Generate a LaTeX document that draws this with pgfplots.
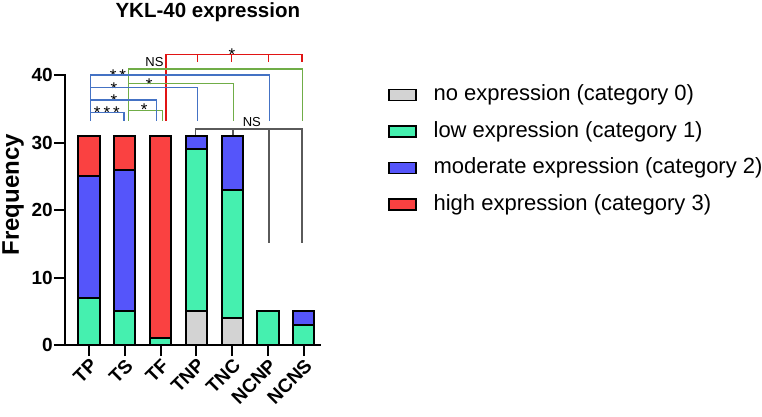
\documentclass[border=0pt]{standalone}
\usepackage{fontspec}
\setmainfont{Liberation Sans}
\usepackage{pgfplots}
\usepackage{pgfplotstable}
\pgfplotsset{compat=1.18}

\definecolor{cnone}{RGB}{211,211,211}
\definecolor{clow}{RGB}{69,240,175}
\definecolor{cmod}{RGB}{85,85,250}
\definecolor{chigh}{RGB}{250,65,65}
\definecolor{bblue}{RGB}{68,114,196}
\definecolor{bgreen}{RGB}{112,173,71}
\definecolor{bred}{RGB}{225,20,20}
\definecolor{bgray}{RGB}{90,90,90}

% counts per group: x cat0 cat1 cat2 cat3
\pgfplotstableread{
x c0 c1 c2 c3
0 0 7 18 6
1 0 5 21 5
2 0 1 0 30
3 5 24 2 0
4 4 19 8 0
5 0 5 0 0
6 0 3 2 0
}\ykl

\newcommand{\sig}{\hspace{3bp}}

\begin{document}
\begin{tikzpicture}
\begin{axis}[
  name=ax,
  scale only axis,
  width=254.9bp, height=270bp,
  xmin=-0.67, xmax=6.45, ymin=0, ymax=40,
  axis x line*=bottom, axis y line*=left,
  axis line style={-, line width=2bp, line cap=rect},
  tick align=outside,
  major tick length=11bp,
  tick style={line width=2bp, black},
  xtick={0,...,6},
  xticklabels={TP,TS,TF,TNP,TNC,NCNP,NCNS},
  ytick={0,10,20,30,40},
  /pgf/number format/assume math mode=true,
  ticklabel style={font=\bfseries\fontsize{19bp}{19bp}\selectfont},
  xticklabel style={rotate=45, anchor=north east, inner sep=1bp},
  yticklabel style={anchor=east, inner sep=1bp},
  ylabel={Frequency},
  ylabel style={font=\bfseries\fontsize{24bp}{24bp}\selectfont,
    at={(axis description cs:-0.204,0.556)}, anchor=center},
  ybar stacked,
  bar width=0.59,
  clip=false,
  legend image code/.code={%
    \draw[#1, line width=1.5bp] (0bp,-5.5bp) rectangle (27bp,5.5bp);},
  legend style={draw=none, fill=none, at={(axis cs:8.35,38.6)}, anchor=north west,
    inner sep=0pt, row sep=15.5bp,
    font=\fontsize{22bp}{22bp}\selectfont,
    nodes={inner sep=0pt, text height=16bp, text depth=5bp},
    /tikz/every odd column/.append style={column sep=17bp}},
  legend cell align=left,
]
\addplot[fill=cnone, draw=black, line width=2bp] table[x=x, y=c0] {\ykl};
\addplot[fill=clow, draw=black, line width=2bp] table[x=x, y=c1] {\ykl};
\addplot[fill=cmod, draw=black, line width=2bp] table[x=x, y=c2] {\ykl};
\addplot[fill=chigh, draw=black, line width=2bp] table[x=x, y=c3] {\ykl};
\legend{no expression (category 0), low expression (category 1),
  moderate expression (category 2), high expression (category 3)}

% significance brackets
\draw[bblue, line width=1.2bp] (axis cs:0.98,33.2) |- (axis cs:0.05,34.4) -- (axis cs:0.05,33.2);
\draw[bblue, line width=1.2bp] (axis cs:1.89,33.2) |- (axis cs:0.05,36.3);
\draw[bblue, line width=1.2bp] (axis cs:3.04,33.2) |- (axis cs:0.05,38.1);
\draw[bblue, line width=1.2bp] (axis cs:5.04,33.2) |- (axis cs:0.05,40.0) -- (axis cs:0.05,33.2);
\draw[bgreen, line width=1.2bp] (axis cs:2.05,33.2) |- (axis cs:1.10,34.8) -- (axis cs:1.10,33.2);
\draw[bgreen, line width=1.2bp] (axis cs:4.03,33.2) |- (axis cs:1.10,38.7);
\draw[bgreen, line width=1.2bp] (axis cs:5.96,33.2) |- (axis cs:1.10,40.9) -- (axis cs:1.10,33.2);
\draw[bred, line width=1.2bp] (axis cs:2.15,33.2) |- (axis cs:5.95,43.0) -- (axis cs:5.95,41.9);
\draw[bred, line width=1.2bp] (axis cs:3.04,43.0) -- (axis cs:3.04,41.9);
\draw[bred, line width=1.2bp] (axis cs:3.99,43.0) -- (axis cs:3.99,41.9);
\draw[bred, line width=1.2bp] (axis cs:5.01,43.0) -- (axis cs:5.01,41.9);
\draw[bgray, line width=1.2bp] (axis cs:2.98,31.1) |- (axis cs:5.95,32.0) -- (axis cs:5.95,15.1);
\draw[bgray, line width=1.2bp] (axis cs:4.02,32.0) -- (axis cs:4.02,31.1);
\draw[bgray, line width=1.2bp] (axis cs:5.03,32.0) -- (axis cs:5.03,15.1);

\node[inner sep=0pt, anchor=base, font=\fontsize{17bp}{17bp}\selectfont] at (axis cs:0.50,33.55) {*\sig*\sig*};
\node[inner sep=0pt, anchor=base, font=\fontsize{17bp}{17bp}\selectfont] at (axis cs:0.70,35.35) {*};
\node[inner sep=0pt, anchor=base, font=\fontsize{17bp}{17bp}\selectfont] at (axis cs:0.70,37.05) {*};
\node[inner sep=0pt, anchor=base, font=\fontsize{17bp}{17bp}\selectfont] at (axis cs:0.81,39.05) {*\sig*};
\node[inner sep=0pt, anchor=base, font=\fontsize{17bp}{17bp}\selectfont] at (axis cs:1.54,33.95) {*};
\node[inner sep=0pt, anchor=base, font=\fontsize{17bp}{17bp}\selectfont] at (axis cs:1.68,37.65) {*};
\node[inner sep=0pt, anchor=base, font=\fontsize{17bp}{17bp}\selectfont] at (axis cs:3.99,42.15) {*};
\node[inner sep=0pt, anchor=base, font=\fontsize{13bp}{13bp}\selectfont] at (axis cs:1.83,41.2) {NS};
\node[inner sep=0pt, anchor=base, font=\fontsize{13bp}{13bp}\selectfont] at (axis cs:4.55,32.3) {NS};
\node[font=\bfseries\fontsize{20.5bp}{20.5bp}\selectfont] at (axis cs:3.32,49.3) {YKL-40 expression};
\end{axis}
\pgfresetboundingbox
\path ([shift={(-65bp,-72bp)}]ax.south west) rectangle ++(762bp,417bp);
\end{tikzpicture}
\end{document}
